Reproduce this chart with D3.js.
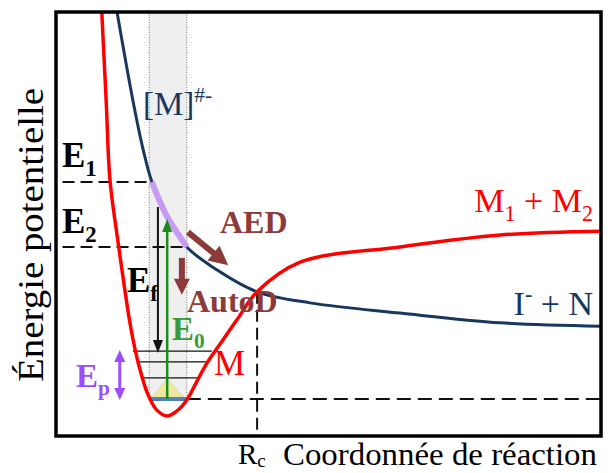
<!DOCTYPE html>
<html><head><meta charset="utf-8">
<script src="https://cdn.jsdelivr.net/npm/d3@7"></script>
<style>body{margin:0;background:#fff}svg{display:block}</style>
</head><body><svg id="c" width="614" height="473"></svg>
<script>
// ---- data (reaction coordinate, energy) ----
const redCurveX = [0.84,0.92,0.99,1.12,1.25,1.38,1.52,1.69,1.85,2.04,2.22,2.40,2.59,2.77,3.05,3.32,3.69,4.48,6.31,8.15,10.0];
const redCurveE = [10.0,7.92,6.04,4.74,3.56,2.50,1.67,0.97,0.61,0.47,0.59,0.85,1.30,1.72,2.24,2.74,3.40,4.10,4.46,4.74,4.83];
const blueCurveX = [1.12,1.41,1.60,1.76,2.04,2.40,2.95,3.69,4.66,6.31,8.15,10.0];
const blueCurveE = [10.0,7.92,6.75,5.99,5.17,4.46,3.92,3.40,3.14,2.90,2.67,2.59];
const purpleX = [1.76,1.90,2.04,2.22,2.40];
const purpleE = [5.99,5.55,5.17,4.80,4.46];
const levelNames = ["1","2"];
const levelE = [5.99,4.46];
const levelXEnd = [1.76,2.40];
const groundE = 0.87;
const vibE = [1.37,1.75,2.00];
const vibX0 = [1.58,1.49,1.41];
const vibX1 = [2.59,2.77,2.86];
const bandX = [1.71,2.40];
const gaussX = [1.71,1.80,1.87,1.96,2.04,2.12,2.22,2.30,2.40];
const gaussE = [0.87,0.97,1.08,1.25,1.32,1.25,1.08,0.97,0.87];
const Rc = 3.69, crossE = 3.40;

const FONT = "'Liberation Serif', 'Tinos', 'Times New Roman', 'Noto Serif', 'DejaVu Serif', 'FreeSerif', 'Nimbus Roman', 'Nimbus Roman No9 L', serif";
const svg = d3.select("#c");
const x = d3.scaleLinear().domain([0,10]).range([56,601]);
const y = d3.scaleLinear().domain([0,10]).range([436,12]);

const navy="#17375e", red="#ff0000", brown="#8c3a3a", green="#1a8c1a", greenT="#3a9a3a", purple="#9b4dff", lilac="#c79bf2";

svg.append("defs").append("clipPath").attr("id","clip").append("rect")
  .attr("x",x(0)).attr("y",y(10)).attr("width",x(10)-x(0)).attr("height",y(0)-y(10));
const g = svg.append("g").attr("clip-path","url(#clip)");

// gray band
g.append("rect").attr("x",x(bandX[0])).attr("y",y(10)).attr("width",x(bandX[1])-x(bandX[0]))
  .attr("height",y(groundE)-y(10)).attr("fill","#efefef");
bandX.forEach(v=>g.append("line").attr("x1",x(v)).attr("x2",x(v)).attr("y1",y(10)).attr("y2",y(groundE))
  .attr("stroke","#777").attr("stroke-width",1).attr("stroke-dasharray","1,1.5"));

// gaussian
g.append("path").datum(gaussX.map((v,i)=>[v,gaussE[i]]))
  .attr("d",d3.line().x(d=>x(d[0])).y(d=>y(d[1])).curve(d3.curveBasis))
  .attr("fill","#efe9a0").attr("stroke","#d8d4b0").attr("stroke-width",0.8);

// vibrational levels
vibE.forEach((e,i)=>g.append("line").attr("x1",x(vibX0[i])).attr("x2",x(vibX1[i])).attr("y1",y(e)).attr("y2",y(e))
  .attr("stroke","#111").attr("stroke-width",1.3));

// dashed lines
levelE.forEach((e,i)=>g.append("line").attr("x1",x(0.12)).attr("x2",x(levelXEnd[i])).attr("y1",y(e)).attr("y2",y(e))
  .attr("stroke","#111").attr("stroke-width",2).attr("stroke-dasharray","12,6"));
g.append("line").attr("x1",x(bandX[1])).attr("x2",x(10)).attr("y1",y(groundE)).attr("y2",y(groundE))
  .attr("stroke","#111").attr("stroke-width",2).attr("stroke-dasharray","14,7");
g.append("line").attr("x1",x(Rc)).attr("x2",x(Rc)).attr("y1",y(crossE)).attr("y2",y(0))
  .attr("stroke","#111").attr("stroke-width",2).attr("stroke-dasharray","12,6");

// ground line (blue)
g.append("line").attr("x1",x(bandX[0])).attr("x2",x(bandX[1])).attr("y1",y(groundE)).attr("y2",y(groundE))
  .attr("stroke","#4f81bd").attr("stroke-width",4);

const line = d3.line().x(d=>x(d[0])).y(d=>y(d[1])).curve(d3.curveCatmullRom.alpha(0.5));
g.append("path").datum(blueCurveX.map((v,i)=>[v,blueCurveE[i]])).attr("d",line)
  .attr("fill","none").attr("stroke",navy).attr("stroke-width",3);
g.append("path").datum(redCurveX.map((v,i)=>[v,redCurveE[i]])).attr("d",line)
  .attr("fill","none").attr("stroke",red).attr("stroke-width",3.5);
g.append("path").datum(purpleX.map((v,i)=>[v,purpleE[i]])).attr("d",line)
  .attr("fill","none").attr("stroke",lilac).attr("stroke-width",6);

// arrows
function arrow(x1,y1,x2,y2,o){
  const dx=x2-x1, dy=y2-y1, L=Math.hypot(dx,dy), ux=dx/L, uy=dy/L, px=-uy, py=ux;
  const head=(X,Y,sx,sy)=>svg.append("polygon").attr("points",
    [[X,Y],[X-sx*o.head+px*o.hw/2,Y-sy*o.head+py*o.hw/2],[X-sx*o.head-px*o.hw/2,Y-sy*o.head-py*o.hw/2]].map(p=>p.join(",")).join(" "))
    .attr("fill",o.color);
  const a = o.both? o.head*0.8:0;
  svg.append("line").attr("x1",x1+ux*a).attr("y1",y1+uy*a).attr("x2",x2-ux*o.head*0.8).attr("y2",y2-uy*o.head*0.8)
    .attr("stroke",o.color).attr("stroke-width",o.w);
  head(x2,y2,ux,uy);
  if(o.both) head(x1,y1,-ux,-uy);
}
arrow(x(1.87),y(5.40),x(1.87),y(1.96),{color:"#111",w:2,head:13,hw:10});
arrow(x(2.04),y(groundE),x(2.04),y(5.12),{color:green,w:2.5,head:13,hw:10});
arrow(x(1.17),y(2.03),x(1.17),y(0.85),{color:purple,w:3,head:12,hw:11,both:true});
arrow(x(2.42),y(4.81),x(3.16),y(4.03),{color:brown,w:6,head:19,hw:19});
arrow(x(2.31),y(4.20),x(2.31),y(3.33),{color:brown,w:6,head:16,hw:16});

// labels
function lab(tx,ty,parts,o){
  const t=svg.append("text").attr("x",tx).attr("y",ty).attr("fill",o.color||"#000")
    .style("font-family",FONT)
    .attr("font-size",o.size).attr("font-weight",o.bold?"bold":"normal").attr("text-anchor",o.anchor||"start");
  let cur=0;
  parts.forEach(p=>{
    const s=t.append("tspan").text(p.t);
    const shift=p.sub?o.size*(o.subShift||0.25):(p.sup?-o.size*0.38:0);
    if(shift!==cur){s.attr("dy",shift-cur);cur=shift;}
    if(p.sub||p.sup) s.attr("font-size",o.size*0.65);
  });
  return t;
}
lab(62,167,[{t:"E"},{t:levelNames[0],sub:true}],{size:35,bold:true});
lab(62,233,[{t:"E"},{t:levelNames[1],sub:true}],{size:35,bold:true});
lab(127,292,[{t:"E"},{t:"f",sub:true}],{size:35,bold:true});
lab(172,340,[{t:"E"},{t:"0",sub:true}],{size:33,bold:true,color:greenT});
lab(76,387,[{t:"E"},{t:"p",sub:true}],{size:33,bold:true,color:purple});
lab(214,375,[{t:"M"}],{size:35,color:red});
lab(220,233,[{t:"AED"}],{size:32,bold:true,color:brown});
lab(187,312,[{t:"AutoD"}],{size:32,bold:true,color:brown});
lab(143,115,[{t:"[M]"},{t:"#-",sup:true}],{size:33,color:navy});
lab(593,212,[{t:"M"},{t:"1",sub:true},{t:" + M"},{t:"2",sub:true}],{size:34,color:red,anchor:"end"});
lab(593,315,[{t:"I"},{t:"-",sup:true},{t:" + N"}],{size:34,color:navy,anchor:"end"});
lab(238,464,[{t:"R"},{t:"c",sub:true}],{size:29,subShift:0.12});
svg.append("text").attr("x",283).attr("y",465).style("font-family",FONT).attr("font-size",31).attr("textLength",314)
  .attr("lengthAdjust","spacingAndGlyphs").text("Coordonnée de réaction");
svg.append("text").attr("transform","translate(43,235) rotate(-90)").attr("text-anchor","middle").style("font-family",FONT)
  .attr("font-size",35).attr("textLength",294).attr("lengthAdjust","spacingAndGlyphs").text("Énergie potentielle");

// frame
svg.append("rect").attr("x",x(0)).attr("y",y(10)).attr("width",x(10)-x(0)).attr("height",y(0)-y(10))
  .attr("fill","none").attr("stroke","#000").attr("stroke-width",3.5);
</script></body></html>
